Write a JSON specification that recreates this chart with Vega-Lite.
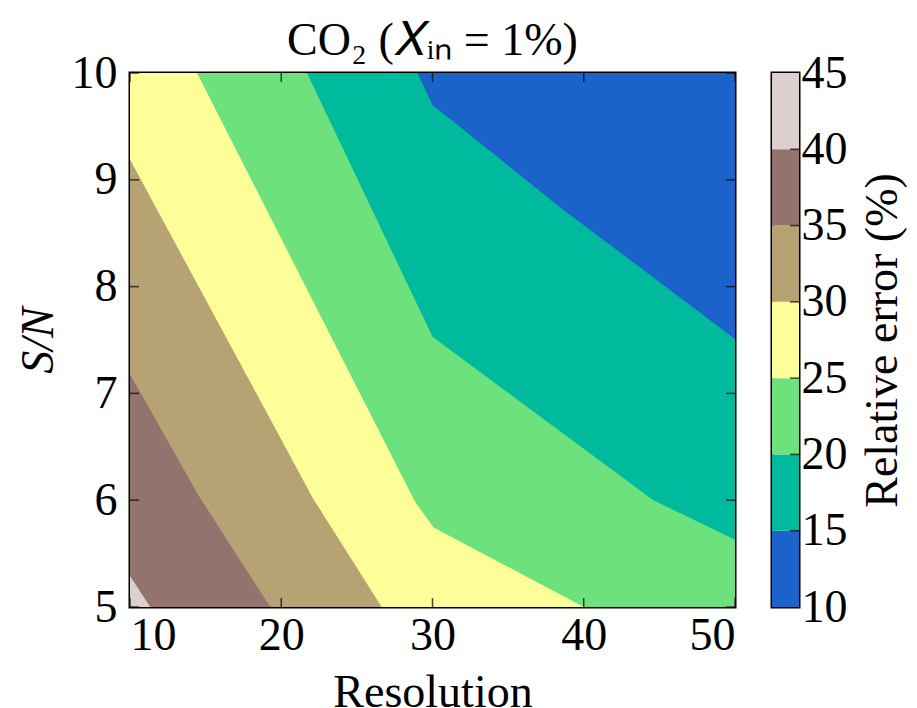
{
  "$schema": "https://vega.github.io/schema/vega-lite/v6.json",
  "background": "white",
  "padding": {"left": 13, "top": 16, "right": 5, "bottom": 0},
  "config": {
    "font": "Liberation Serif",
    "view": {"stroke": "black", "strokeWidth": 3},
    "axis": {
      "domain": false, "grid": false, "ticks": true, "tickSize": 0, "tickOpacity": 0,
      "labelFont": "Liberation Serif", "labelFontSize": 46, "labelColor": "black",
      "titleFont": "Liberation Serif", "titleFontSize": 46, "titleFontWeight": "normal", "titleColor": "black"
    },
    "tick": {"color": "black", "thickness": 1.5, "size": 18},
    "title": {"font": "Liberation Serif", "fontSize": 46, "fontWeight": "normal", "color": "black"},
    "concat": {"spacing": 33}
  },
  "datasets": {
    "contours": [
      {"band": "10–15", "x": 10, "y": 10}, {"band": "10–15", "x": 50, "y": 10},
      {"band": "15–20", "x": 10, "y": 10}, {"band": "15–20", "x": 29.0, "y": 10}, {"band": "15–20", "x": 30, "y": 9.7}, {"band": "15–20", "x": 38.55, "y": 8.73}, {"band": "15–20", "x": 50, "y": 7.51},
      {"band": "20–25", "x": 10, "y": 10}, {"band": "20–25", "x": 21.7, "y": 10}, {"band": "20–25", "x": 30, "y": 7.53}, {"band": "20–25", "x": 44.6, "y": 6.0}, {"band": "20–25", "x": 50, "y": 5.63},
      {"band": "25–30", "x": 10, "y": 10}, {"band": "25–30", "x": 14.43, "y": 10}, {"band": "25–30", "x": 28.86, "y": 5.98}, {"band": "25–30", "x": 30.07, "y": 5.745}, {"band": "25–30", "x": 40, "y": 5}, {"band": "25–30", "x": 50, "y": 5},
      {"band": "30–35", "x": 10, "y": 9.19}, {"band": "30–35", "x": 22.13, "y": 6.01}, {"band": "30–35", "x": 26.64, "y": 5},
      {"band": "35–40", "x": 10, "y": 7.18}, {"band": "35–40", "x": 14.55, "y": 6.04}, {"band": "35–40", "x": 19.27, "y": 5},
      {"band": "40–45", "x": 10, "y": 5.29}, {"band": "40–45", "x": 11.34, "y": 5}
    ],
    "bands": [
      {"band": "10–15", "lo": 10, "hi": 15},
      {"band": "15–20", "lo": 15, "hi": 20},
      {"band": "20–25", "lo": 20, "hi": 25},
      {"band": "25–30", "lo": 25, "hi": 30},
      {"band": "30–35", "lo": 30, "hi": 35},
      {"band": "35–40", "lo": 35, "hi": 40},
      {"band": "40–45", "lo": 40, "hi": 45}
    ],
    "ticks": [
      {"axis": "x", "v": 10}, {"axis": "x", "v": 20}, {"axis": "x", "v": 30}, {"axis": "x", "v": 40}, {"axis": "x", "v": 50},
      {"axis": "y", "v": 5}, {"axis": "y", "v": 6}, {"axis": "y", "v": 7}, {"axis": "y", "v": 8}, {"axis": "y", "v": 9}, {"axis": "y", "v": 10},
      {"axis": "c", "v": 15}, {"axis": "c", "v": 20}, {"axis": "c", "v": 25}, {"axis": "c", "v": 30}, {"axis": "c", "v": 35}, {"axis": "c", "v": 40}
    ]
  },
  "hconcat": [
    {
      "title": {"text": "CO₂ (𝑋ᵢₙ = 1%)", "offset": -15},
      "width": 605,
      "height": 534,
      "resolve": {"axis": {"x": "independent", "y": "independent"}},
      "layer": [
        {
          "data": {"name": "contours"},
          "transform": [{"filter": "datum.band === '10–15'"}],
          "mark": {"type": "area", "clip": true},
          "encoding": {
            "x": {"field": "x", "type": "quantitative", "scale": {"domain": [10, 50], "nice": false, "zero": false},
                  "axis": {"orient": "bottom", "values": [10, 20, 30, 40, 50], "title": "Resolution", "titlePadding": 12, "labelPadding": 6}},
            "y": {"field": "y", "type": "quantitative", "scale": {"domain": [5, 10], "nice": false, "zero": false},
                  "axis": {"orient": "left", "values": [5, 6, 7, 8, 9, 10], "title": "S/N", "titleFontStyle": "italic", "titlePadding": 9, "labelPadding": 13}},
            "y2": {"datum": 5},
            "color": {"field": "band", "type": "nominal",
                      "scale": {"domain": ["10–15", "15–20", "20–25", "25–30", "30–35", "35–40", "40–45"],
                                "range": ["#1b63ca", "#00ba9d", "#6de27c", "#fefe98", "#b6a272", "#92736d", "#dbd0ce"]},
                      "legend": null}
          }
        },
        {
          "data": {"name": "contours"},
          "transform": [{"filter": "datum.band === '15–20'"}],
          "mark": {"type": "area", "clip": true},
          "encoding": {
            "x": {"field": "x", "type": "quantitative", "axis": null},
            "y": {"field": "y", "type": "quantitative", "axis": null},
            "y2": {"datum": 5},
            "color": {"field": "band", "type": "nominal", "legend": null}
          }
        },
        {
          "data": {"name": "contours"},
          "transform": [{"filter": "datum.band === '20–25'"}],
          "mark": {"type": "area", "clip": true},
          "encoding": {
            "x": {"field": "x", "type": "quantitative", "axis": null},
            "y": {"field": "y", "type": "quantitative", "axis": null},
            "y2": {"datum": 5},
            "color": {"field": "band", "type": "nominal", "legend": null}
          }
        },
        {
          "data": {"name": "contours"},
          "transform": [{"filter": "datum.band === '25–30'"}],
          "mark": {"type": "area", "clip": true},
          "encoding": {
            "x": {"field": "x", "type": "quantitative", "axis": null},
            "y": {"field": "y", "type": "quantitative", "axis": null},
            "y2": {"datum": 5},
            "color": {"field": "band", "type": "nominal", "legend": null}
          }
        },
        {
          "data": {"name": "contours"},
          "transform": [{"filter": "datum.band === '30–35'"}],
          "mark": {"type": "area", "clip": true},
          "encoding": {
            "x": {"field": "x", "type": "quantitative", "axis": null},
            "y": {"field": "y", "type": "quantitative", "axis": null},
            "y2": {"datum": 5},
            "color": {"field": "band", "type": "nominal", "legend": null}
          }
        },
        {
          "data": {"name": "contours"},
          "transform": [{"filter": "datum.band === '35–40'"}],
          "mark": {"type": "area", "clip": true},
          "encoding": {
            "x": {"field": "x", "type": "quantitative", "axis": null},
            "y": {"field": "y", "type": "quantitative", "axis": null},
            "y2": {"datum": 5},
            "color": {"field": "band", "type": "nominal", "legend": null}
          }
        },
        {
          "data": {"name": "contours"},
          "transform": [{"filter": "datum.band === '40–45'"}],
          "mark": {"type": "area", "clip": true},
          "encoding": {
            "x": {"field": "x", "type": "quantitative", "axis": null},
            "y": {"field": "y", "type": "quantitative", "axis": null},
            "y2": {"datum": 5},
            "color": {"field": "band", "type": "nominal", "legend": null}
          }
        },
        {
          "data": {"name": "ticks"},
          "transform": [{"filter": "datum.axis === 'x'"}],
          "mark": {"type": "tick", "orient": "vertical", "clip": true},
          "encoding": {
            "x": {"field": "v", "type": "quantitative", "axis": null},
            "y": {"datum": 5, "type": "quantitative", "axis": null}
          }
        },
        {
          "data": {"name": "ticks"},
          "transform": [{"filter": "datum.axis === 'x'"}],
          "mark": {"type": "tick", "orient": "vertical", "clip": true},
          "encoding": {
            "x": {"field": "v", "type": "quantitative", "axis": null},
            "y": {"datum": 10, "type": "quantitative", "axis": null}
          }
        },
        {
          "data": {"name": "ticks"},
          "transform": [{"filter": "datum.axis === 'y'"}],
          "mark": {"type": "tick", "orient": "horizontal", "clip": true},
          "encoding": {
            "y": {"field": "v", "type": "quantitative", "axis": null},
            "x": {"datum": 10, "type": "quantitative", "axis": null}
          }
        },
        {
          "data": {"name": "ticks"},
          "transform": [{"filter": "datum.axis === 'y'"}],
          "mark": {"type": "tick", "orient": "horizontal", "clip": true},
          "encoding": {
            "y": {"field": "v", "type": "quantitative", "axis": null},
            "x": {"datum": 50, "type": "quantitative", "axis": null}
          }
        }
      ]
    },
    {
      "width": 27,
      "height": 534,
      "resolve": {"axis": {"x": "independent", "y": "independent"}},
      "layer": [
        {
          "data": {"name": "bands"},
          "mark": "rect",
          "encoding": {
            "x": {"datum": 0, "type": "quantitative", "scale": {"domain": [0, 1], "nice": false, "zero": false}, "axis": null},
            "x2": {"datum": 1},
            "y": {"field": "lo", "type": "quantitative", "scale": {"domain": [10, 45], "nice": false, "zero": false},
                  "axis": {"orient": "right", "values": [10, 15, 20, 25, 30, 35, 40, 45], "title": "Relative error (%)", "titleAngle": 270, "titleBaseline": "top", "titlePadding": 13, "labelPadding": 2}},
            "y2": {"field": "hi"},
            "color": {"field": "band", "type": "nominal",
                      "scale": {"domain": ["10–15", "15–20", "20–25", "25–30", "30–35", "35–40", "40–45"],
                                "range": ["#1b63ca", "#00ba9d", "#6de27c", "#fefe98", "#b6a272", "#92736d", "#dbd0ce"]},
                      "legend": null}
          }
        },
        {
          "data": {"name": "ticks"},
          "transform": [{"filter": "datum.axis === 'c'"}],
          "mark": {"type": "tick", "orient": "horizontal", "clip": true},
          "encoding": {
            "y": {"field": "v", "type": "quantitative", "axis": null},
            "x": {"datum": 1, "type": "quantitative", "axis": null}
          }
        }
      ]
    }
  ]
}
